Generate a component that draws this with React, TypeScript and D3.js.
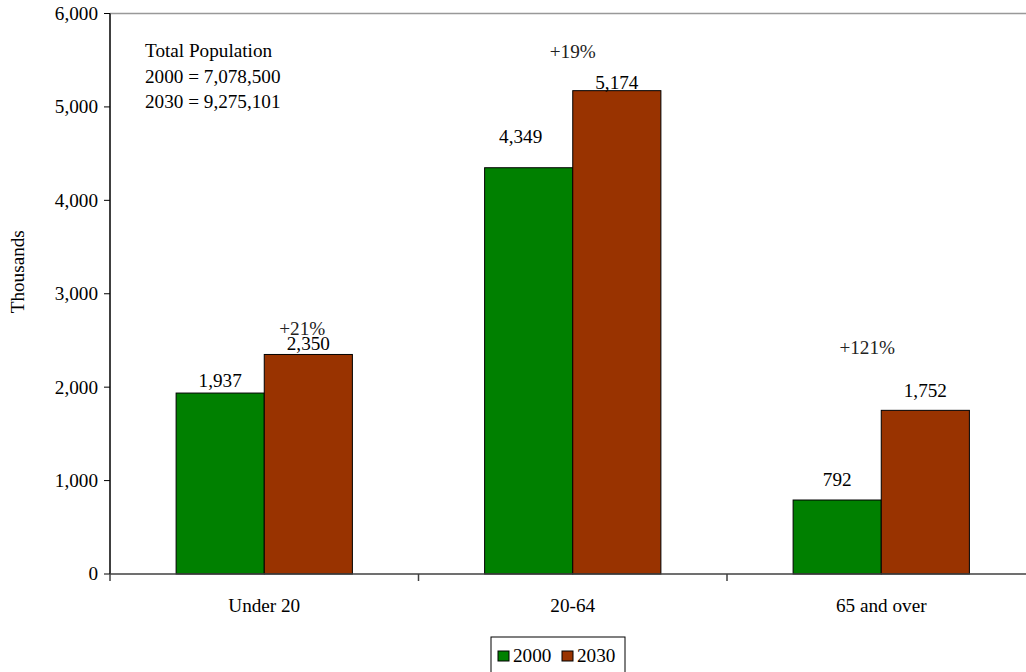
import React from "react";
import * as d3 from "d3";

const categories = ["Under 20", "20-64", "65 and over"];
const series = ["2000", "2030"];
const values2000 = [1937, 4349, 792];
const values2030 = [2350, 5174, 1752];
const changeLabels = ["+21%", "+19%", "+121%"];
const yTicks = [0, 1000, 2000, 3000, 4000, 5000, 6000];
const noteLines = ["Total Population", "2000 = 7,078,500", "2030 = 9,275,101"];

// layout nudges for the hand-placed labels (pixels above bar top)
const lift2000 = [12, 31, 20];
const lift2030 = [11, 8, 20];
const changeY = [329, 52, 348];
const changeDx = [13, -25, -39];

const colors = ["#008000", "#993300"];
const FONT = "Liberation Serif";

export default function App() {
  const W = 1026, H = 672;
  const x0 = 110, x1 = 1035.5, yTop = 13.5, yBot = 574;
  const y = d3.scaleLinear().domain([0, 6000]).range([yBot, yTop]);
  const xb = d3.scaleBand().domain(categories).range([x0, x1]).padding(0);
  const bw = xb.bandwidth() / 3.5;
  const fmt = d3.format(",");
  const fs = 19.2;
  const data = [values2000, values2030];
  const lifts = [lift2000, lift2030];

  return (
    <svg width={W} height={H} style={{ position: "absolute", left: 0, top: 0, background: "#fff" }}>
      <line x1={x0} x2={W} y1={yTop} y2={yTop} stroke="#999" strokeWidth={1.5} />
      {categories.map((c, i) => {
        const cx = (xb(c) as number) + xb.bandwidth() / 2;
        return (
          <g key={c}>
            {data.map((vals, s) => {
              const bx = cx - bw + s * bw;
              return (
                <rect key={s} x={bx} y={y(vals[i])} width={bw} height={yBot - y(vals[i])} fill={colors[s]} stroke="#000" strokeWidth={1} />
              );
            })}
          </g>
        );
      })}
      <line x1={x0} x2={x0} y1={yTop} y2={yBot} stroke="#000" strokeWidth={1.5} />
      <line x1={x0} x2={W} y1={yBot} y2={yBot} stroke="#404040" strokeWidth={1.5} />
      <g fontFamily={FONT} fontSize={fs} fill="#000">
        {yTicks.map((t) => (
          <g key={t}>
            <line x1={x0 - 6} x2={x0} y1={y(t)} y2={y(t)} stroke="#000" strokeWidth={1} />
            <text x={x0 - 12} y={y(t)} dy="0.33em" textAnchor="end" fontFamily={FONT}>{fmt(t)}</text>
          </g>
        ))}
        {categories.map((c) => (
          <line key={"tk" + c} x1={(xb(c) as number)} x2={(xb(c) as number)} y1={yBot} y2={yBot + 7} stroke="#404040" strokeWidth={1.5} />
        ))}
        {categories.map((c) => (
          <text key={"cl" + c} x={(xb(c) as number) + xb.bandwidth() / 2} y={606} dy="0.33em" textAnchor="middle" fontFamily={FONT}>{c}</text>
        ))}
        {categories.map((c, i) => {
          const cx = (xb(c) as number) + xb.bandwidth() / 2;
          return (
            <g key={"vl" + c}>
              {data.map((vals, s) => (
                <text key={s} x={cx - bw / 2 + s * bw - (s === 0 && i === 1 ? 8 : 0)} y={y(vals[i]) - lifts[s][i]} dy="0.33em" textAnchor="middle" fontFamily={FONT}>{fmt(vals[i])}</text>
              ))}
              <text x={cx + changeDx[i] + 25} y={changeY[i]} dy="0.33em" textAnchor="middle" fill="#222" fontFamily={FONT}>{changeLabels[i]}</text>
            </g>
          );
        })}
        {noteLines.map((l, i) => (
          <text key={l} x={145} y={51 + i * 25.5} dy="0.33em" fontFamily={FONT}>{l}</text>
        ))}
        <text transform={`translate(18,${(yTop + yBot) / 2 - 22}) rotate(-90)`} textAnchor="middle" dy="0.33em" fontFamily={FONT}>Thousands</text>
        <rect x={491} y={637} width={134} height={40} fill="#fff" stroke="#000" strokeWidth={1} />
        {series.map((s, i) => (
          <g key={s} transform={`translate(${498 + i * 64},0)`}>
            <rect x={0} y={651} width={11} height={10} fill={colors[i]} stroke="#000" strokeWidth={1} />
            <text x={15} y={656} dy="0.33em" fontFamily={FONT}>{s}</text>
          </g>
        ))}
      </g>
    </svg>
  );
}
